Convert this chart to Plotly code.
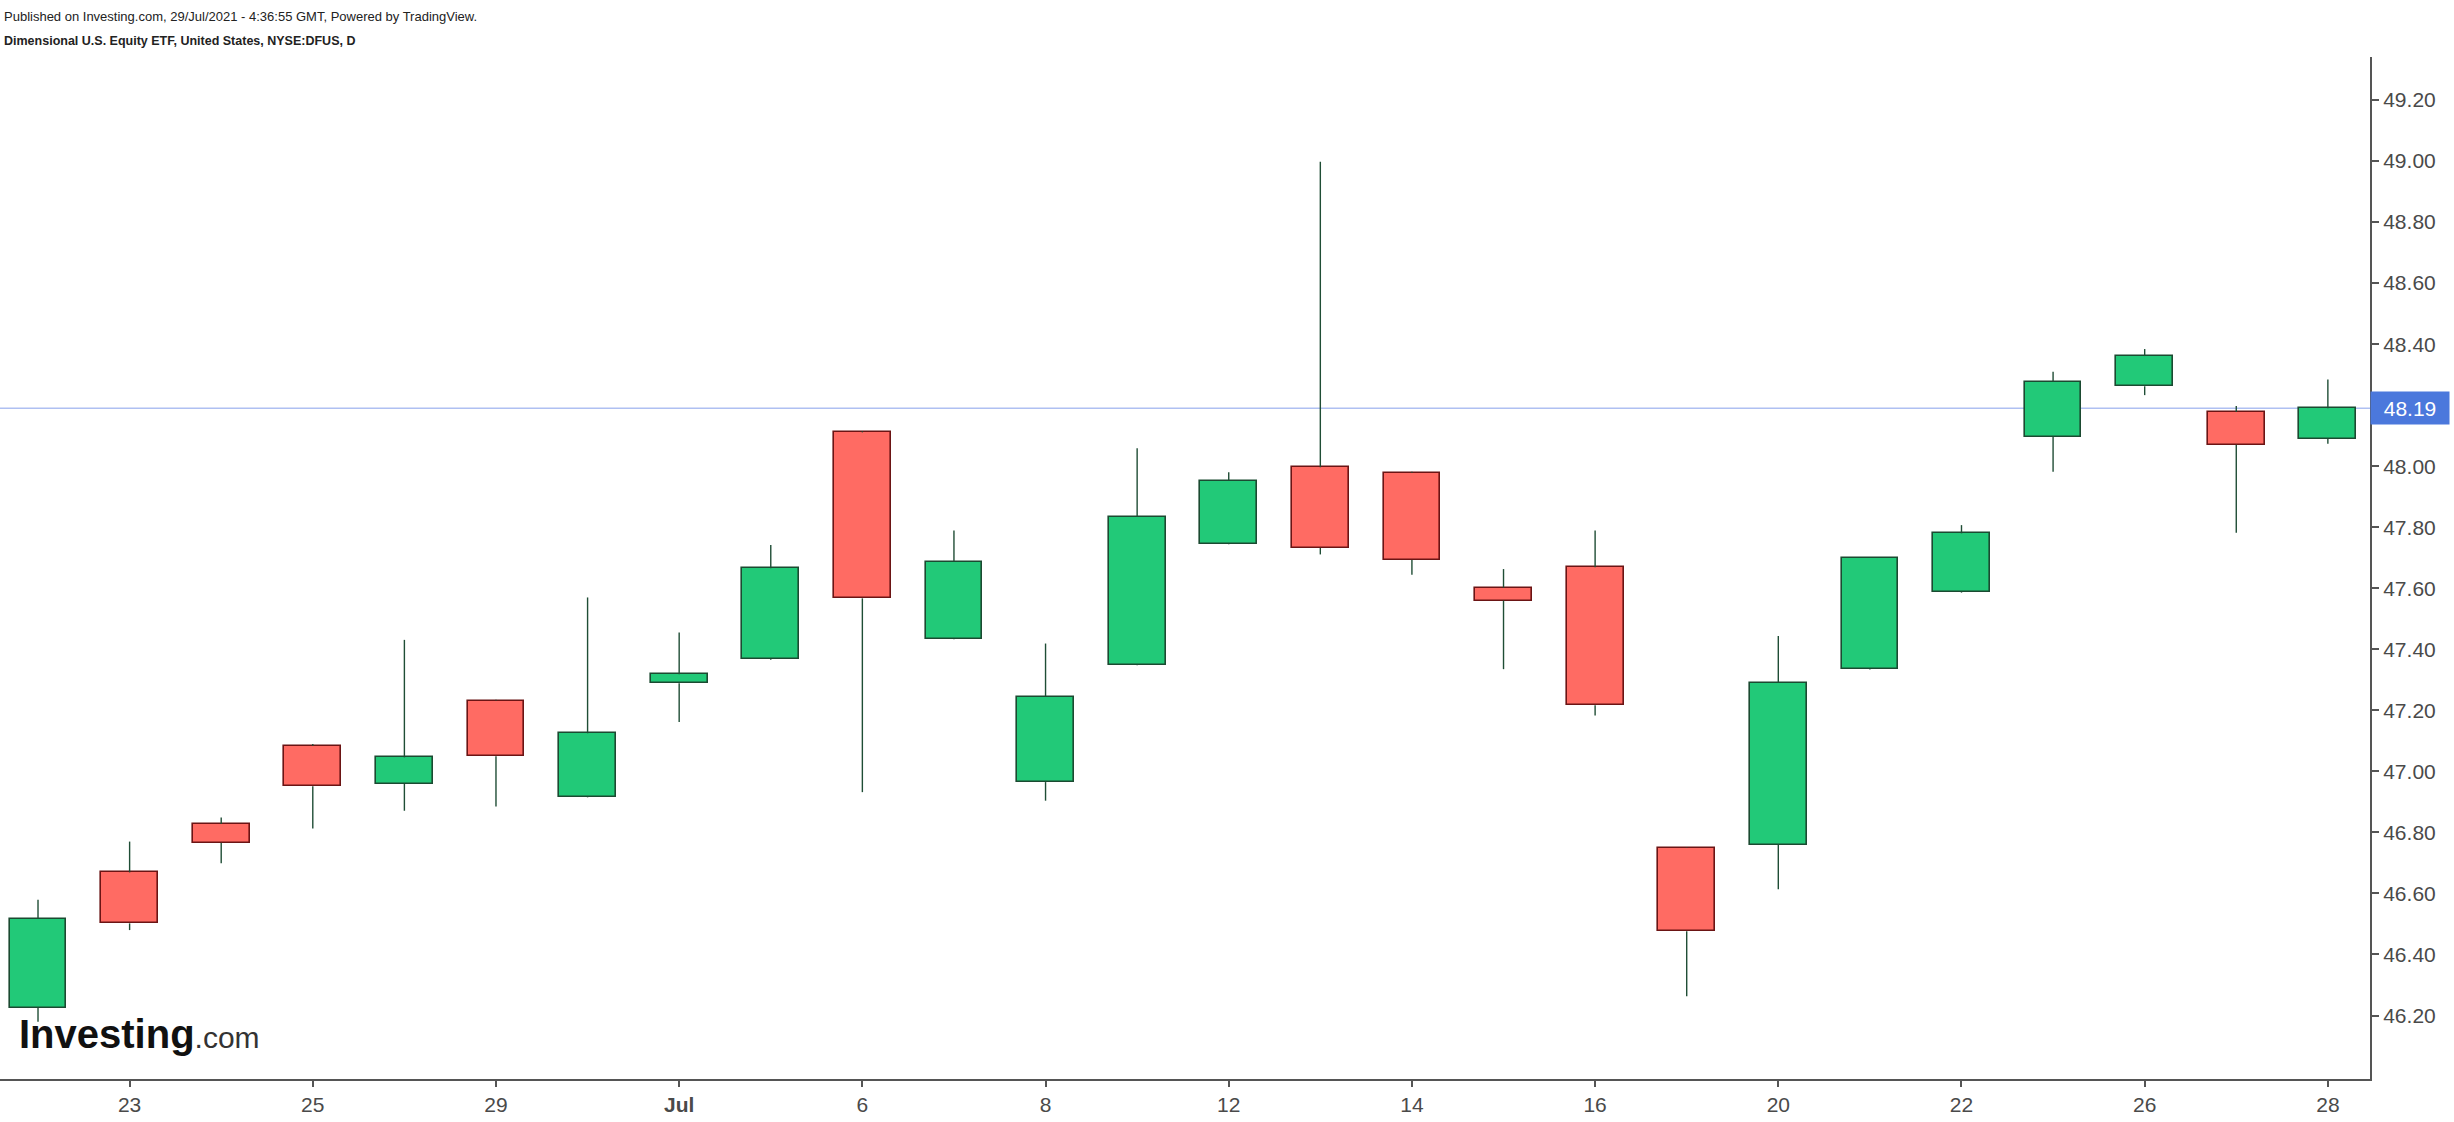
import plotly.graph_objects as go

# ---- data ----
dates = ["2021-06-22", "2021-06-23", "2021-06-24", "2021-06-25", "2021-06-28",
         "2021-06-29", "2021-06-30", "2021-07-01", "2021-07-02", "2021-07-06",
         "2021-07-07", "2021-07-08", "2021-07-09", "2021-07-12", "2021-07-13",
         "2021-07-14", "2021-07-15", "2021-07-16", "2021-07-19", "2021-07-20",
         "2021-07-21", "2021-07-22", "2021-07-23", "2021-07-26", "2021-07-27",
         "2021-07-28"]
opens = [46.225, 46.669, 46.828, 47.084, 46.959, 47.232, 46.917, 47.289, 47.368, 48.111,
         47.435, 46.965, 47.350, 47.746, 47.997, 47.979, 47.602, 47.669, 46.749, 46.760,
         47.336, 47.587, 48.096, 48.262, 48.178, 48.089]
highs = [46.579, 46.770, 46.849, 47.090, 47.431, 47.235, 47.570, 47.455, 47.742, 48.115,
         47.789, 47.419, 48.059, 47.980, 48.998, 47.982, 47.663, 47.789, 46.751, 47.444,
         47.702, 47.807, 48.310, 48.384, 48.197, 48.284]
lows = [46.180, 46.480, 46.699, 46.813, 46.871, 46.885, 46.915, 47.162, 47.366, 46.932,
        47.433, 46.904, 47.348, 47.744, 47.711, 47.644, 47.335, 47.183, 46.263, 46.614,
        47.334, 47.585, 47.982, 48.233, 47.782, 48.074]
closes = [46.517, 46.502, 46.766, 46.951, 47.046, 47.050, 47.125, 47.318, 47.666, 47.567,
          47.687, 47.245, 47.834, 47.953, 47.732, 47.693, 47.560, 47.217, 46.476, 47.290,
          47.700, 47.780, 48.276, 48.361, 48.070, 48.190]
tick_dates = ["2021-06-23", "2021-06-25", "2021-06-29", "2021-07-01", "2021-07-06",
              "2021-07-08", "2021-07-12", "2021-07-14", "2021-07-16", "2021-07-20",
              "2021-07-22", "2021-07-26", "2021-07-28"]
tick_labels = ["23", "25", "29", "<b>Jul</b>", "6", "8", "12", "14", "16", "20", "22", "26", "28"]
y_ticks = [46.2, 46.4, 46.6, 46.8, 47.0, 47.2, 47.4, 47.6, 47.8, 48.0, 48.2, 48.4,
           48.6, 48.8, 49.0, 49.2]

# ---- styles ----
UP_FILL, UP_LINE = "#22C978", "#1B4A31"
DN_FILL, DN_LINE = "#FF6B63", "#6B1414"
WICK = "#1F4D35"
FONT = "Liberation Sans, Arial, sans-serif"
TXT = "#4A4A4A"

up = [c >= o for o, c in zip(opens, closes)]
body_base = [min(o, c) for o, c in zip(opens, closes)]
body_h = [abs(c - o) for o, c in zip(opens, closes)]
body_top = [max(o, c) for o, c in zip(opens, closes)]

# wicks: upper and lower segments (not crossing the body)
wx, wy = [], []
for d, h, l, t, b in zip(dates, highs, lows, body_top, body_base):
    if h > t:
        wx += [d, d, None]
        wy += [t, h, None]
    if l < b:
        wx += [d, d, None]
        wy += [l, b, None]

fig = go.Figure()
fig.add_trace(go.Bar(
    x=dates, y=body_h, base=body_base, width=0.62,
    marker=dict(color=[UP_FILL if u else DN_FILL for u in up],
                line=dict(color=[UP_LINE if u else DN_LINE for u in up], width=1.6)),
    hoverinfo="skip", showlegend=False))
fig.add_trace(go.Scatter(
    x=wx, y=wy, mode="lines", line=dict(color=WICK, width=1.4),
    hoverinfo="skip", showlegend=False, connectgaps=False))

last = closes[-1]
fig.add_shape(type="line", xref="paper", x0=0, x1=1, yref="y", y0=last, y1=last,
              line=dict(color="#AFC0F2", width=1.3), layer="below")

annotations = [
    dict(xref="paper", yref="paper", x=0.001, y=1.040, xanchor="left", yanchor="middle",
         text="Published on Investing.com, 29/Jul/2021 - 4:36:55 GMT, Powered by TradingView.",
         showarrow=False, font=dict(family=FONT, size=13, color="#222")),
    dict(xref="paper", yref="paper", x=0.001, y=1.016, xanchor="left", yanchor="middle",
         text="<b>Dimensional U.S. Equity ETF, United States, NYSE:DFUS, D</b>",
         showarrow=False, font=dict(family=FONT, size=12.5, color="#222")),
    dict(xref="paper", yref="y", x=1, y=last, xanchor="left", yanchor="middle",
         text="%.2f" % last, showarrow=False, bgcolor="#4B78DC",
         width=76, height=30, align="center", borderpad=1,
         font=dict(family=FONT, size=21, color="white")),
    dict(xref="paper", yref="paper", x=0.007, y=0.044, xanchor="left", yanchor="middle",
         text="<b>Investing</b><span style='font-size:30px;color:#333'>.com</span>",
         showarrow=False, font=dict(family=FONT, size=40, color="#111")),
]

fig.update_layout(
    width=2454, height=1122,
    margin=dict(l=0, r=84, t=57, b=43),
    paper_bgcolor="white", plot_bgcolor="white",
    bargap=0, showlegend=False,
    annotations=annotations,
    xaxis=dict(type="category", categoryorder="array", categoryarray=dates,
               range=[-0.415, 25.46], tickmode="array", tickvals=tick_dates,
               ticktext=tick_labels, showgrid=False, zeroline=False,
               showline=True, linecolor="#555", linewidth=2,
               ticks="outside", ticklen=6, tickcolor="#555", tickwidth=1.5,
               tickfont=dict(family=FONT, size=21, color=TXT), fixedrange=True),
    yaxis=dict(side="right", range=[45.992, 49.341], tickmode="array",
               tickvals=y_ticks, ticktext=["%.2f" % v for v in y_ticks],
               showgrid=False, zeroline=False, showline=True, linecolor="#555",
               linewidth=2, ticks="outside", ticklen=7, tickcolor="#555", tickwidth=1.5,
               tickfont=dict(family=FONT, size=21, color=TXT), fixedrange=True),
)

fig.write_html("out.html")
